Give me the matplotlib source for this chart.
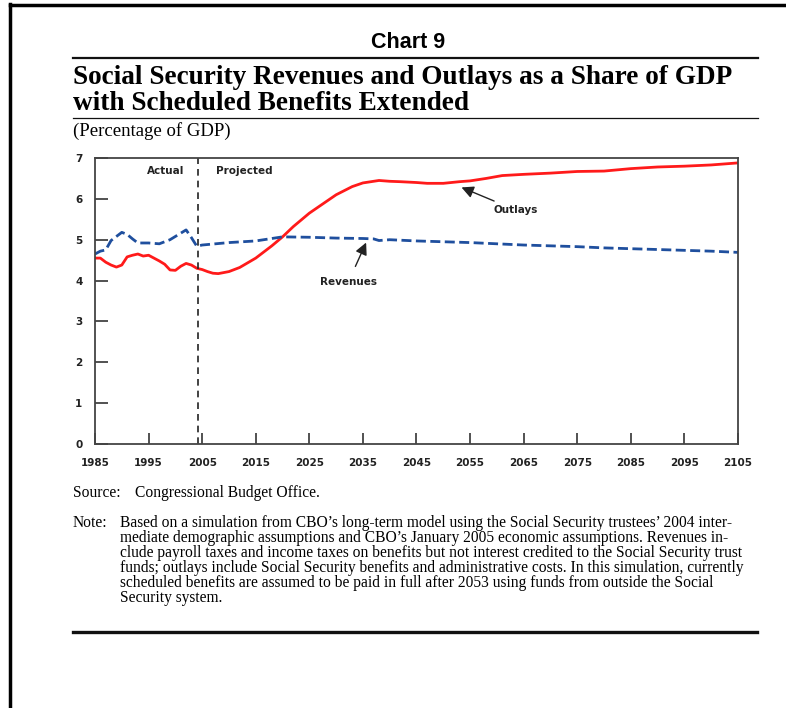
import numpy as np
import matplotlib
matplotlib.use("Agg")
import matplotlib.pyplot as plt
from matplotlib.lines import Line2D

# Data (percentage of GDP)
out_years = [1985, 1986, 1987, 1988, 1989, 1990, 1991, 1992, 1993, 1994, 1995,
             1996, 1997, 1998, 1999, 2000, 2001, 2002, 2003, 2004, 2005, 2006,
             2007, 2008, 2010, 2012, 2015, 2018, 2020, 2022, 2025, 2028, 2030,
             2033, 2035, 2038, 2040, 2042, 2045, 2047, 2050, 2053, 2055, 2058,
             2061, 2065, 2070, 2075, 2080, 2085, 2090, 2095, 2100, 2105]
outlays = [4.55, 4.55, 4.45, 4.38, 4.33, 4.38, 4.58, 4.62, 4.65, 4.6, 4.62,
           4.55, 4.48, 4.4, 4.26, 4.25, 4.35, 4.42, 4.38, 4.3, 4.27, 4.22,
           4.18, 4.17, 4.22, 4.32, 4.55, 4.85, 5.07, 5.32, 5.65, 5.92, 6.1,
           6.3, 6.39, 6.45, 6.43, 6.42, 6.4, 6.38, 6.38, 6.42, 6.44, 6.5,
           6.57, 6.6, 6.63, 6.67, 6.68, 6.74, 6.78, 6.8, 6.83, 6.88]

rev_years = [1985, 1986, 1987, 1988, 1989, 1990, 1991, 1992, 1993, 1995, 1997,
             1999, 2000, 2001, 2002, 2003, 2004, 2005, 2010, 2015, 2020, 2025,
             2030, 2035, 2037, 2038, 2040, 2045, 2050, 2055, 2060, 2065, 2070,
             2075, 2080, 2085, 2090, 2095, 2100, 2105]
revenues = [4.65, 4.72, 4.75, 4.98, 5.08, 5.18, 5.13, 5.02, 4.92, 4.92, 4.9,
            5.0, 5.08, 5.16, 5.24, 5.05, 4.84, 4.87, 4.93, 4.97, 5.07, 5.06,
            5.04, 5.03, 5.02, 4.98, 5.0, 4.97, 4.95, 4.93, 4.9, 4.87, 4.85,
            4.83, 4.8, 4.78, 4.76, 4.74, 4.72, 4.69]

xticks = list(range(1985, 2106, 10))
yticks = list(range(0, 8))

W, H = 786, 708
fig = plt.figure(figsize=(W / 100, H / 100), dpi=100)
fig.patch.set_facecolor("white")


def fx(px):
    return px / W


def fy(py):
    return 1 - py / H


ax = fig.add_axes([fx(95), fy(444), (738 - 95) / W, (444 - 158) / H])

ax.plot(out_years, outlays, color="#ff1a1a", lw=2.0, solid_capstyle="round")
ax.plot(rev_years, revenues, color="#1f4f9e", lw=2.0, dashes=(3.6, 1.6))
ax.axvline(2004.2, color="#222222", lw=1.2, dashes=(4, 3))

ax.set_xlim(1985, 2105)
ax.set_ylim(0, 7)
ax.set_xticks(xticks)
ax.set_yticks(yticks)
ax.tick_params(direction="in", length=8, width=1.2, color="#333333",
               labelsize=7.5, pad=10)
ax.tick_params(axis="y", length=9, pad=9)
for lab in ax.get_xticklabels() + ax.get_yticklabels():
    lab.set_fontweight("bold")
    lab.set_color("#222222")
for s in ax.spines.values():
    s.set_color("#444444")
    s.set_linewidth(1.3)

txt = dict(fontsize=7.5, fontweight="bold", color="#222222")
ax.text(1998.2, 6.67, "Actual", ha="center", va="center", **txt)
ax.text(2012.8, 6.67, "Projected", ha="center", va="center", **txt)
ax.annotate("Outlays", xy=(2053.4, 6.28), xytext=(2059.3, 5.73),
            ha="left", va="center",
            arrowprops=dict(arrowstyle="-|>", color="#222222", lw=1,
                            mutation_scale=18, shrinkA=2, shrinkB=0), **txt)
ax.annotate("Revenues", xy=(2035.6, 4.93), xytext=(2032.3, 3.97),
            ha="center", va="center",
            arrowprops=dict(arrowstyle="-|>", color="#222222", lw=1,
                            mutation_scale=18, shrinkA=6, shrinkB=0), **txt)

# page border
fig.add_artist(Line2D([fx(10), fx(10)], [fy(4), 0], color="black", lw=2.5))
fig.add_artist(Line2D([fx(10), 1], [fy(5), fy(5)], color="black", lw=2.5))

# header
fig.text(fx(408), fy(43), "Chart 9", ha="center", va="center",
         family="Liberation Sans", fontweight="bold", fontsize=15.5)
fig.add_artist(Line2D([fx(73), fx(758)], [fy(58), fy(58)], color="#111111", lw=1.6))
serif = ["Liberation Serif", "DejaVu Serif"]
fig.text(fx(73), fy(77), "Social Security Revenues and Outlays as a Share of GDP",
         ha="left", va="center", family=serif, fontweight="bold", fontsize=19.6)
fig.text(fx(73), fy(104), "with Scheduled Benefits Extended",
         ha="left", va="center", family=serif, fontweight="bold", fontsize=19.6)
fig.add_artist(Line2D([fx(73), fx(758)], [fy(118), fy(118)], color="#111111", lw=0.9))
fig.text(fx(73), fy(131), "(Percentage of GDP)", ha="left", va="center",
         family=serif, fontsize=13.5)

# footer
fs = 11.2
fig.text(fx(73), fy(493), "Source:", ha="left", va="center", family=serif, fontsize=fs)
fig.text(fx(135), fy(493), "Congressional Budget Office.", ha="left", va="center",
         family=serif, fontsize=fs)
fig.text(fx(73), fy(523), "Note:", ha="left", va="center", family=serif, fontsize=fs)
note = [
    "Based on a simulation from CBO\u2019s long-term model using the Social Security trustees\u2019 2004 inter-",
    "mediate demographic assumptions and CBO\u2019s January 2005 economic assumptions. Revenues in-",
    "clude payroll taxes and income taxes on benefits but not interest credited to the Social Security trust",
    "funds; outlays include Social Security benefits and administrative costs. In this simulation, currently",
    "scheduled benefits are assumed to be paid in full after 2053 using funds from outside the Social",
    "Security system.",
]
for i, line in enumerate(note):
    fig.text(fx(120), fy(523 + 15 * i), line, ha="left", va="center",
             family=serif, fontsize=fs)
fig.add_artist(Line2D([fx(73), fx(757)], [fy(632), fy(632)], color="#111111", lw=2.4))

fig.savefig("out.png", dpi=100)
